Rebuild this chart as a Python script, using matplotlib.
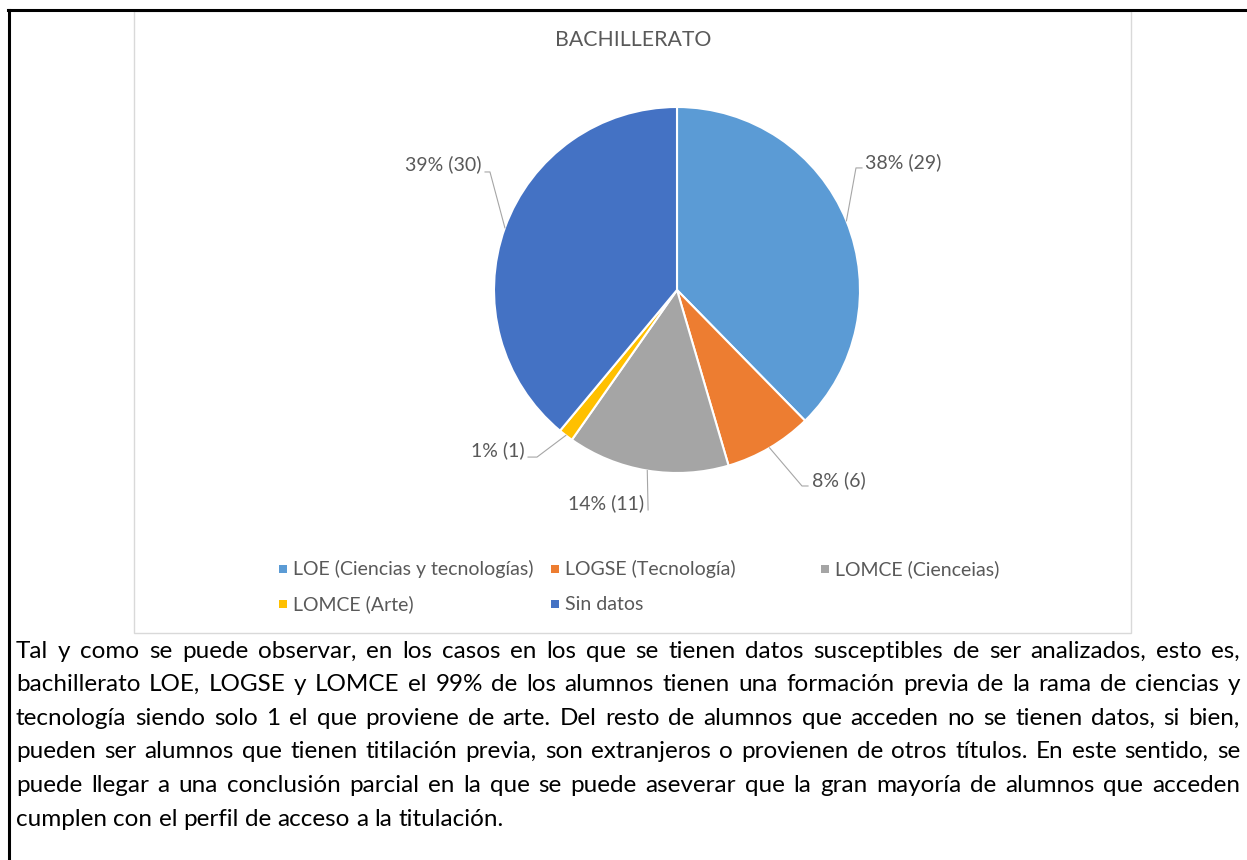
import numpy as np
import matplotlib
matplotlib.use("Agg")
import matplotlib.pyplot as plt
from matplotlib.patches import Rectangle
from matplotlib.lines import Line2D

# data
categories = ["LOE (Ciencias y tecnologías)", "LOGSE (Tecnología)", "LOMCE (Cienceias)",
              "LOMCE (Arte)", "Sin datos"]
counts = [29, 6, 11, 1, 30]
colors = ["#5B9BD5", "#ED7D31", "#A5A5A5", "#FFC000", "#4472C4"]
title = "BACHILLERATO"

paragraph_lines = [
    "Tal y como se puede observar, en los casos en los que se tienen datos susceptibles de ser analizados, esto es,",
    "bachillerato LOE, LOGSE y LOMCE el 99% de los alumnos tienen una formación previa de la rama de ciencias y",
    "tecnología siendo solo 1 el que proviene de arte. Del resto de alumnos que acceden no se tienen datos, si bien,",
    "pueden ser alumnos que tienen titilación previa, son extranjeros o provienen de otros títulos. En este sentido, se",
    "puede llegar a una conclusión parcial en la que se puede aseverar que la gran mayoría de alumnos que acceden",
    "cumplen con el perfil de acceso a la titulación.",
]

W, H = 1247, 860
fig = plt.figure(figsize=(W / 100, H / 100), dpi=100)
fx = lambda px: px / W
fy = lambda py: 1 - py / H

FONT = "Lato"
GREY_TXT = "#595959"

# outer black border (top + left)
fig.add_artist(Line2D([fx(8), 1], [fy(10), fy(10)], color="black", lw=2.2))
fig.add_artist(Line2D([fx(9), fx(9)], [fy(10), 0], color="black", lw=2.2))

# chart frame
fig.add_artist(Rectangle((fx(134), fy(633)), fx(1131) - fx(134), fy(11) - fy(633),
                         fill=False, ec="#D9D9D9", lw=1))

# pie axes: center at (677, 290) px, radius 183 px
cx, cy, R = 677, 290, 183
left, right, top, bottom = 134, 1131, 10, 633
ax = fig.add_axes([fx(left), fy(bottom), fx(right) - fx(left), fy(top) - fy(bottom)])
ax.axis("off")

wedges, _ = ax.pie(counts, colors=colors, startangle=90, counterclock=False, radius=1,
                   wedgeprops=dict(edgecolor="white", linewidth=1.5))
ax.set_aspect("auto")
ax.set_xlim((left - cx) / R, (right - cx) / R)
ax.set_ylim((cy - bottom) / R, (cy - top) / R)

# label layout (elbow, end, text position, alignment) in pie units
label_layout = [
    ((0.978, 0.667), (1.011, 0.667), (1.027, 0.699), "left"),
    ((0.683, -1.071), (0.716, -1.071), (0.738, -1.038), "left"),
    ((-0.158, -1.202), (-0.158, -1.202), (-0.178, -1.164), "right"),
    ((-0.765, -0.913), (-0.814, -0.913), (-0.831, -0.874), "right"),
    ((-1.022, 0.645), (-1.049, 0.645), (-1.066, 0.689), "right"),
]
total = sum(counts)
for w, n, (elbow, end, tpos, ha) in zip(wedges, counts, label_layout):
    mid = np.deg2rad((w.theta1 + w.theta2) / 2)
    x0, y0 = np.cos(mid), np.sin(mid)
    ax.plot([x0, elbow[0], end[0]], [y0, elbow[1], end[1]], color="#A6A6A6", lw=0.8)
    ax.text(tpos[0], tpos[1], f"{100 * n / total:.0f}% ({n})", ha=ha, va="center",
            fontsize=14, color=GREY_TXT, family=FONT)

fig.text(fx(633), fy(40), title, ha="center", va="center", fontsize=15.3,
         color=GREY_TXT, family=FONT)

# legend (row-major, equal column widths like Excel)
leg_x = [283, 555, 825]
leg_y = [569, 604]
for i, (lab, c) in enumerate(zip(categories, colors)):
    r, col = divmod(i, 3)
    px, py = leg_x[col], leg_y[r]
    s = 8
    fig.add_artist(Rectangle((fx(px - s / 2), fy(py + s / 2)), s / W, s / H, color=c, lw=0))
    fig.text(fx(px + 10), fy(py), lab, ha="left", va="center", fontsize=14,
             color=GREY_TXT, family=FONT)

# justified paragraph
renderer = fig.canvas.get_renderer()
p_left, p_right = 16, 1240
line_y0, line_dy = 651, 33.6
p_size = 17.5


def text_width(s):
    t = fig.text(0, 0, s, fontsize=p_size, family=FONT)
    wpx = t.get_window_extent(renderer).width
    t.remove()
    return wpx


space_w = text_width("a a") - text_width("aa")
for i, line in enumerate(paragraph_lines):
    words = line.split(" ")
    widths = [text_width(wd) for wd in words]
    last = i == len(paragraph_lines) - 1
    if last or len(words) == 1:
        gap = space_w
    else:
        gap = (p_right - p_left - sum(widths)) / (len(words) - 1)
    x = p_left
    y = line_y0 + i * line_dy
    for wd, wpx in zip(words, widths):
        fig.text(fx(x), fy(y), wd, ha="left", va="center", fontsize=p_size,
                 color="black", family=FONT)
        x += wpx + gap

fig.savefig("out.png", dpi=100)
